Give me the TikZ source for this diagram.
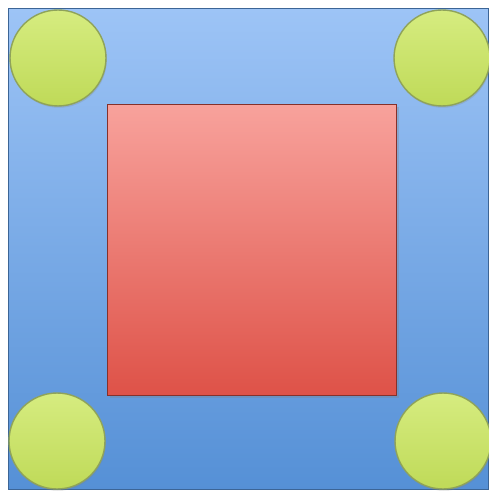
\documentclass[tikz,border=0pt]{standalone}
\usepackage{tikz}
\usetikzlibrary{shadows}
\definecolor{bgtop}{HTML}{9DC4F6}
\definecolor{bgbot}{HTML}{5590D6}
\definecolor{redtop}{HTML}{F8A29C}
\definecolor{redbot}{HTML}{DE5248}
\definecolor{grntop}{HTML}{D6EC80}
\definecolor{grnbot}{HTML}{BFDA58}
\definecolor{grnline}{HTML}{8FA35A}
\begin{document}
\begin{tikzpicture}[x=0.02cm,y=-0.02cm]
  \useasboundingbox (0,0) rectangle (488,492);
  \tikzset{ball/.style={circle,minimum size=1.92cm,inner sep=0pt,draw=grnline,line width=0.8pt,
      top color=grntop,bottom color=grnbot,drop shadow={opacity=0.25,shadow xshift=0.5pt,shadow yshift=-1pt}}}
  \node[draw=bgbot!70!black,line width=0.6pt,top color=bgtop,bottom color=bgbot,minimum width=9.62cm,minimum height=9.64cm,inner sep=0pt] (base) at (248.5,249) {};
  \node[draw=redbot!60!black,line width=0.4pt,top color=redtop,bottom color=redbot,minimum width=5.78cm,minimum height=5.82cm,inner sep=0pt,
    drop shadow={opacity=0.3,shadow xshift=1.5pt,shadow yshift=-1.5pt}] (core) at (251.5,249.5) {};
  \foreach \j/\x/\y in {tl/58/58,tr/442/58,bl/57/441,br/443/441}
    \node[ball] (c\j) at (\x,\y) {};
\end{tikzpicture}
\end{document}
